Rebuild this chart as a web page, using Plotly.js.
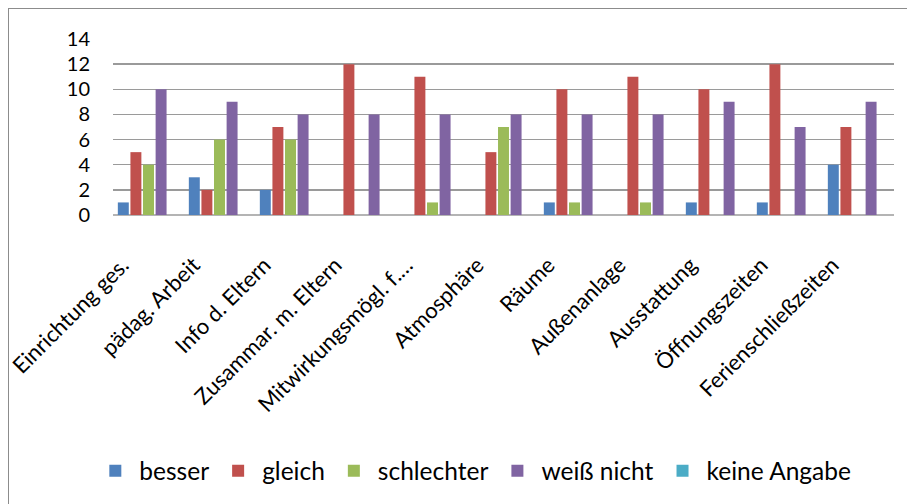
<!DOCTYPE html>
<html>
<head>
<meta charset="utf-8">
<script src="https://cdn.plot.ly/plotly-3.0.1.min.js"></script>
<style>
  body { margin: 0; padding: 0; background: #fff; overflow: hidden; }
  #chart { position: absolute; left: 0; top: 0; width: 907px; height: 504px; }
  #frame { position: absolute; left: 8px; top: 8px; width: 1000px; height: 600px;
           border-left: 1.5px solid #8c8c8c; border-top: 1.5px solid #8c8c8c; pointer-events: none; }
</style>
</head>
<body>
<div id="chart"></div>
<div id="frame"></div>
<script>
const categories = ["Einrichtung ges.", "pädag. Arbeit", "Info d. Eltern", "Zusammar. m. Eltern",
  "Mitwirkungsmögl. f.…", "Atmosphäre", "Räume", "Außenanlage", "Ausstattung",
  "Öffnungszeiten", "Ferienschließzeiten"];
const besser      = [1, 3, 2, 0, 0, 0, 1, 0, 1, 1, 4];
const gleich      = [5, 2, 7, 12, 11, 5, 10, 11, 10, 12, 7];
const schlechter  = [4, 6, 6, 0, 1, 7, 1, 1, 0, 0, 0];
const weissNicht  = [10, 9, 8, 8, 8, 8, 8, 8, 9, 7, 9];
const keineAngabe = [0, 0, 0, 0, 0, 0, 0, 0, 0, 0, 0];
const seriesNames = ["besser", "gleich", "schlechter", "weiß nicht", "keine Angabe"];
const yTicks = [0, 2, 4, 6, 8, 10, 12, 14];

const colors = ["#4F81BD", "#C0504D", "#9BBB59", "#8064A2", "#4BACC6"];
const values = [besser, gleich, schlechter, weissNicht, keineAngabe];
const font = "Lato, 'Open Sans', sans-serif";

const data = values.map((v, i) => ({
  type: "bar",
  name: seriesNames[i],
  x: categories,
  y: v,
  marker: { color: colors[i] },
  hoverinfo: "x+y+name"
}));

const layout = {
  width: 907, height: 504,
  margin: { l: 113, r: 13, t: 39, b: 288, pad: 0 },
  paper_bgcolor: "#fff", plot_bgcolor: "#fff",
  barmode: "group",
  bargap: 0.113,
  bargroupgap: 0.13,
  font: { family: font, size: 19, color: "#000" },
  xaxis: {
    type: "category",
    tickangle: -45,
    showgrid: false,
    showline: false,
    zeroline: false,
    ticks: "",
    ticklabelshift: -26,
    ticklabelstandoff: 32,
    automargin: false,
    tickfont: { family: font, size: 22, color: "#000" }
  },
  yaxis: {
    range: [0, 14],
    tickvals: yTicks,
    ticktext: yTicks.map(String),
    showgrid: true,
    gridcolor: "#9a9a9a",
    gridwidth: 1.3,
    zeroline: true,
    zerolinecolor: "#b4b4b4",
    zerolinewidth: 2.5,
    showline: false,
    ticks: "",
    ticklabelstandoff: 22,
    automargin: false,
    tickfont: { family: font, size: 20, color: "#000" }
  },
  showlegend: true,
  legend: {
    orientation: "h",
    x: 0.462, xanchor: "center",
    y: -1.44, yanchor: "middle",
    font: { family: font, size: 24.5, color: "#000" },
    itemwidth: 38,
    traceorder: "normal"
  }
};

Plotly.newPlot("chart", data, layout, { displayModeBar: false, staticPlot: true });
</script>
</body>
</html>
